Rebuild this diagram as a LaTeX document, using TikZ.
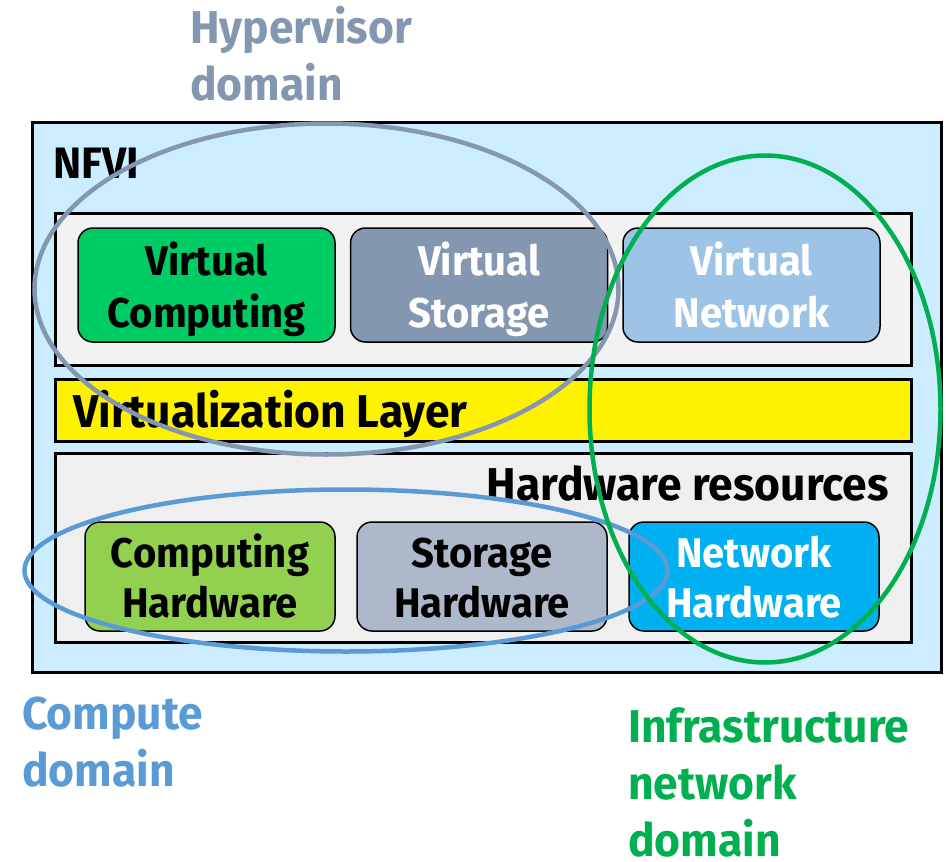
\documentclass[tikz,border=0pt]{standalone}
\usepackage{fontspec}
\setmainfont{Fira Sans}[FakeStretch=0.965]
\usetikzlibrary{shapes.geometric}
\definecolor{nfvibg}{HTML}{CCECFF}
\definecolor{layerbg}{HTML}{F2F2F2}
\definecolor{hwbg}{HTML}{EFEFEF}
\definecolor{vcomp}{HTML}{00CC66}
\definecolor{vstor}{HTML}{8497B0}
\definecolor{vnet}{HTML}{9DC3E6}
\definecolor{hcomp}{HTML}{92D050}
\definecolor{hstor}{HTML}{ADB9CA}
\definecolor{hnet}{HTML}{00B0F0}
\definecolor{hypc}{HTML}{8497B0}
\definecolor{compc}{HTML}{5B9BD5}
\definecolor{infrc}{HTML}{00B050}
\tikzset{
  panel/.style={draw=black, line width=3pt, inner sep=0pt, outer sep=0pt},
  resbox/.style={draw=black, line width=1.5pt, rounded corners=15pt, inner sep=0pt,
    minimum height=114pt, minimum width=257pt},
  boxtext/.style={font=\bfseries\fontsize{41.5}{52}\selectfont, align=center, inner sep=0pt},
  bigtext/.style={font=\bfseries\fontsize{46}{57}\selectfont, inner sep=0pt},
  domainring/.style={ellipse, draw, line width=4.5pt, inner sep=0pt, fill=none},
}
\begin{document}
\begin{tikzpicture}[x=1pt, y=-1pt]
\useasboundingbox (0,0) rectangle (946,862);
% NFVI frame and its layers
\node[panel, fill=nfvibg, minimum width=909pt, minimum height=550pt] (nfvi) at (486.5,397) {};
\node[bigtext, anchor=base west, font=\bfseries\fontsize{44}{52}\selectfont] (nfvilbl) at (53,178) {NFVI};
\node[panel, fill=layerbg, minimum width=856pt, minimum height=152pt] (virt) at (483,289) {};
\node[panel, fill=yellow, minimum width=856pt, minimum height=62pt] (vlayer) at (483,410) {};
\node[bigtext, anchor=base west] (vlayerlbl) at (73,427) {Virtualization Layer};
\node[panel, fill=hwbg, minimum width=856pt, minimum height=189pt] (hw) at (483,547.5) {};
\node[bigtext, anchor=base east] (hwlbl) at (889,500) {Hardware resources};
% virtual resources
\node[resbox, fill=vcomp] (vc) at (206.5,285) {};
\node[resbox, fill=vstor] (vs) at (479,285) {};
\node[resbox, fill=vnet] (vn) at (751.5,285) {};
\node[boxtext, text=black, anchor=base] at (206.5,327) {Virtual\\Computing};
\node[boxtext, text=white, anchor=base] at (479,327) {Virtual\\Storage};
\node[boxtext, text=white, anchor=base] at (751.5,327) {Virtual\\Network};
% hardware resources
\node[resbox, fill=hcomp, minimum width=250pt, minimum height=109pt] (hc) at (210,576.5) {};
\node[resbox, fill=hstor, minimum width=250pt, minimum height=109pt] (hs) at (482,576.5) {};
\node[resbox, fill=hnet, minimum width=250pt, minimum height=109pt] (hn) at (754,576.5) {};
\node[boxtext, text=black, anchor=base, font=\bfseries\fontsize{41.5}{50}\selectfont] at (210,617) {Computing\\Hardware};
\node[boxtext, text=black, anchor=base, font=\bfseries\fontsize{41.5}{50}\selectfont] at (482,617) {Storage\\Hardware};
\node[boxtext, text=white, anchor=base, font=\bfseries\fontsize{41.5}{50}\selectfont] at (754,617) {Network\\Hardware};
% domains
\node[domainring, draw=hypc, minimum width=584pt, minimum height=331pt] (hyp) at (326.5,289) {};
\node[domainring, draw=compc, minimum width=643pt, minimum height=162pt] (comp) at (346,570.5) {};
\node[domainring, draw=infrc, minimum width=351pt, minimum height=507pt] (infr) at (765,409) {};
% domain labels
\node[bigtext, text=hypc, align=left, anchor=base west] (hyplbl) at (190,100) {Hypervisor\\domain};
\node[bigtext, text=compc, align=left, anchor=base west] (complbl) at (22,786) {Compute\\domain};
\node[bigtext, text=infrc, align=left, anchor=base west] (infrlbl) at (628,856) {Infrastructure\\network\\domain};
\end{tikzpicture}
\end{document}
